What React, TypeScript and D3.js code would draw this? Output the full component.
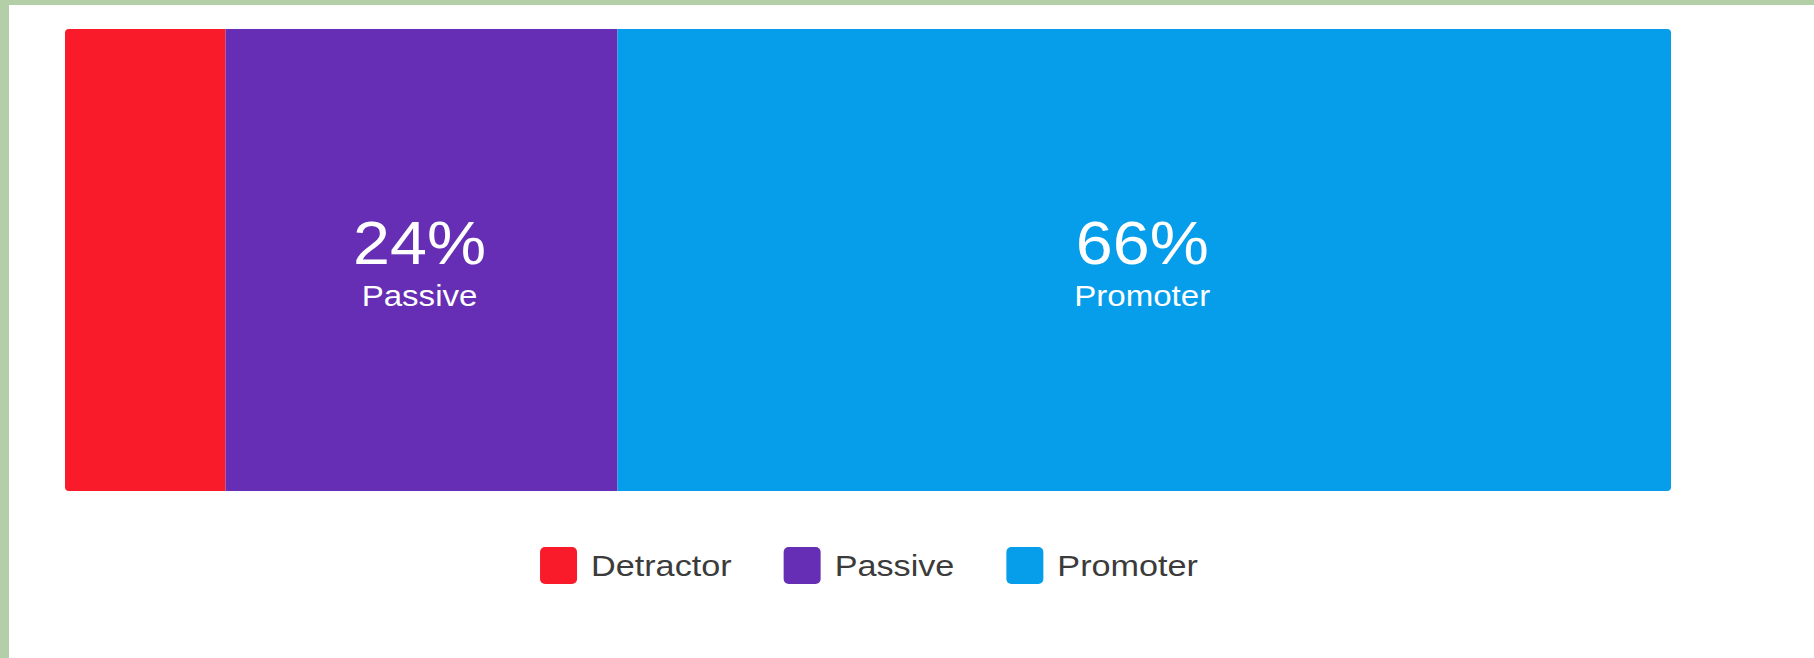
import React, { useRef, useEffect } from "react";
import * as d3 from "d3";

// NPS split, percent of responses
const categories = ["Detractor", "Passive", "Promoter"];
const shares = [10, 24.4, 65.6];
const colors = ["#FA1B2A", "#662EB4", "#069DEB"];

const W = 1814;
const H = 658;

const App: React.FC = () => {
  const svgRef = useRef<SVGSVGElement>(null);

  useEffect(() => {
    if (!svgRef.current) return;
    const svg = d3.select(svgRef.current);
    svg.selectAll("*").remove();

    const font = "'Liberation Sans', Arial, sans-serif";
    const barTop = 29;
    const barBottom = 491;

    const x = d3
      .scaleLinear()
      .domain([0, d3.sum(shares)])
      .range([65, 1671]);

    // page frame (green strip top + left)
    svg.append("rect").attr("x", 0).attr("y", 0).attr("width", W).attr("height", 5).attr("fill", "#B3CFA8");
    svg.append("rect").attr("x", 0).attr("y", 0).attr("width", 9).attr("height", H).attr("fill", "#B3CFA8");

    // rounded outer corners only
    svg
      .append("defs")
      .append("clipPath")
      .attr("id", "barClip")
      .append("rect")
      .attr("x", x(0))
      .attr("y", barTop)
      .attr("width", x(d3.sum(shares)) - x(0))
      .attr("height", barBottom - barTop)
      .attr("rx", 4);

    const data = categories.map((c, i) => ({
      label: c,
      value: shares[i],
      start: d3.sum(shares.slice(0, i)),
      color: colors[i],
    }));

    const seg = svg
      .append("g")
      .attr("clip-path", "url(#barClip)")
      .selectAll("g")
      .data(data)
      .join("g");

    seg
      .append("rect")
      .attr("x", (d) => x(d.start))
      .attr("y", barTop)
      .attr("width", (d) => x(d.start + d.value) - x(d.start))
      .attr("height", barBottom - barTop)
      .attr("fill", (d) => d.color);

    // labels only where the slice is wide enough
    const labelled = seg.filter((d) => x(d.start + d.value) - x(d.start) > 250);
    const mid = (d: { start: number; value: number }) =>
      (x(d.start) + x(d.start + d.value)) / 2 - 2;

    labelled
      .append("text")
      .attr("transform", (d) => `translate(${mid(d)},264) scale(1.09,1)`)
      .attr("text-anchor", "middle")
      .attr("fill", "#fff")
      .style("font-family", font)
      .style("font-size", "61px")
      .text((d) => `${Math.round(d.value)}%`);

    labelled
      .append("text")
      .attr("transform", (d) => `translate(${mid(d)},306) scale(1.14,1)`)
      .attr("text-anchor", "middle")
      .attr("fill", "#fff")
      .style("font-family", font)
      .style("font-size", "29px")
      .text((d) => d.label);

    // legend, centred under the bar
    const legend = svg.append("g");
    const marker = 37;
    const items = legend
      .selectAll("g")
      .data(data)
      .join("g");

    items
      .append("rect")
      .attr("width", marker)
      .attr("height", marker)
      .attr("y", 547)
      .attr("rx", 5)
      .attr("fill", (d) => d.color);

    const labels = items
      .append("text")
      .attr("transform", `translate(${marker + 14},576) scale(1.14,1)`)
      .attr("fill", "#3b3b3b")
      .style("font-family", font)
      .style("font-size", "30px")
      .text((d) => d.label);

    const widths: number[] = [];
    labels.each(function () {
      widths.push((this as SVGTextElement).getComputedTextLength() * 1.14);
    });
    const gap = 52;
    const itemW = widths.map((w) => marker + 14 + w);
    const total = d3.sum(itemW) + gap * (itemW.length - 1);
    let cx = (x(0) + x(d3.sum(shares))) / 2 - total / 2 + 1;
    items.attr("transform", (_, i) => {
      const t = `translate(${cx},0)`;
      cx += itemW[i] + gap;
      return t;
    });
  }, []);

  return (
    <div style={{ position: "fixed", left: 0, top: 0, width: W, height: H, background: "#fff" }}>
      <svg ref={svgRef} width={W} height={H} style={{ display: "block" }} />
    </div>
  );
};

export default App;
